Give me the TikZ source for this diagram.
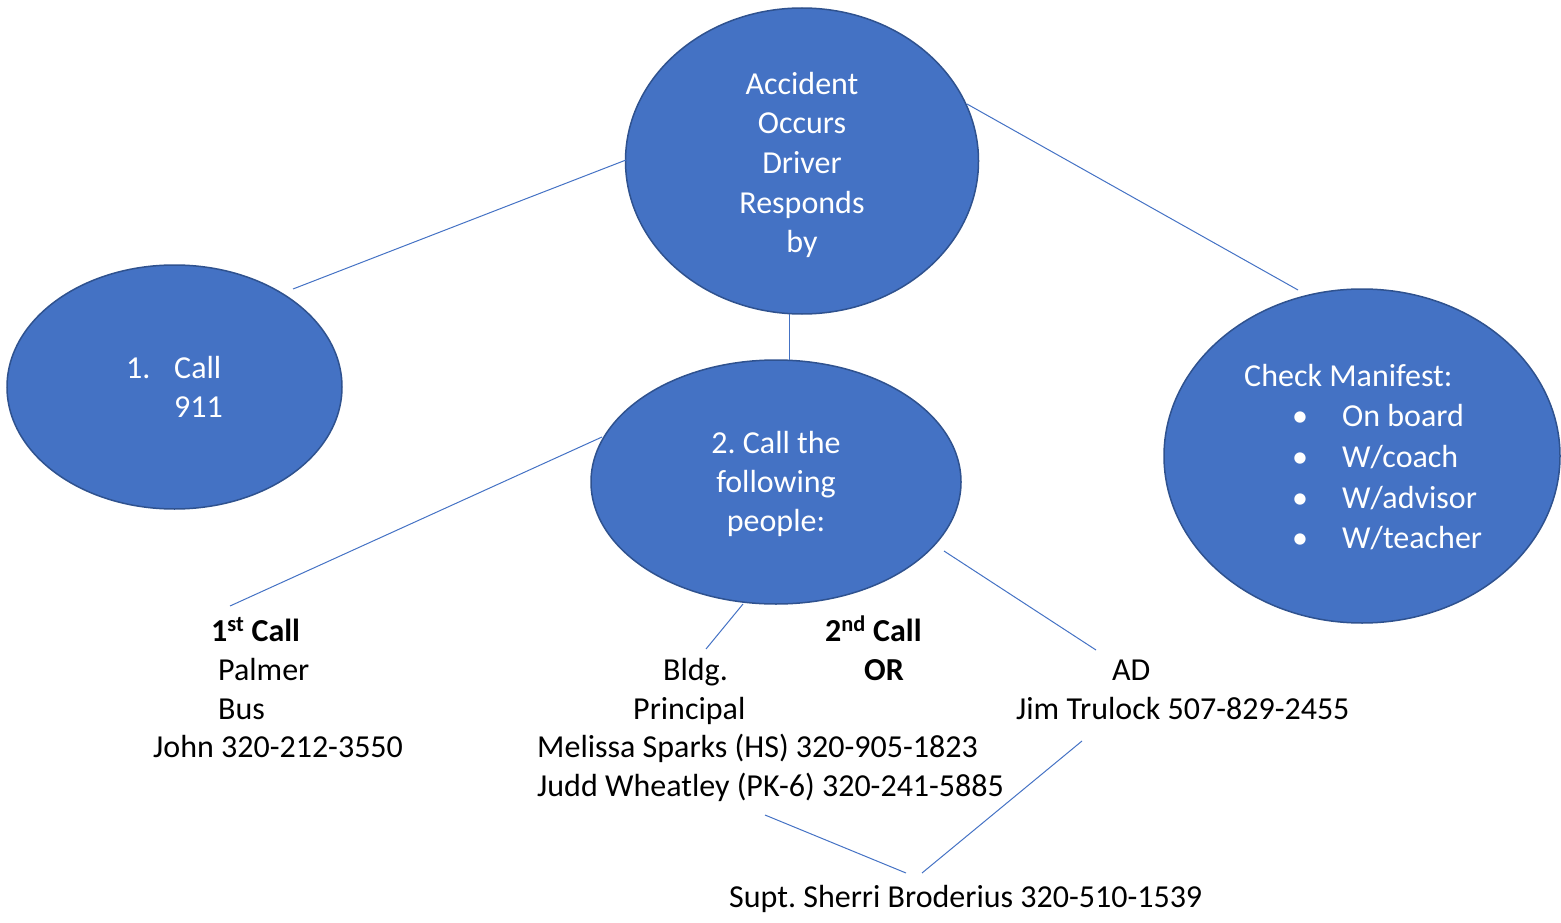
\documentclass[tikz,border=0pt]{standalone}
\usepackage{fontspec}
\setmainfont{Carlito}
\usetikzlibrary{shapes.geometric}
\definecolor{bluefill}{HTML}{4472C4}
\definecolor{blueedge}{HTML}{2F528F}
\tikzset{
  bubble/.style={ellipse, fill=bluefill, draw=blueedge, line width=1.5pt, inner sep=0pt},
  wtxt/.style={text=white, font=\fontsize{32}{39}\selectfont, inner sep=0pt},
  btxt/.style={text=black, font=\fontsize{32}{39}\selectfont, inner sep=0pt},
  bold/.style={font=\fontsize{32}{39}\selectfont\bfseries},
  conn/.style={draw=bluefill, line width=1pt},
}
\frenchspacing
\begin{document}
\begin{tikzpicture}[x=1pt,y=-1pt]
\useasboundingbox (0,0) rectangle (1561,923);
% ellipses
\node[bubble, minimum width=353, minimum height=306] (top) at (802,161) {};
\node[bubble, minimum width=335, minimum height=244] (left) at (174.5,387) {};
\node[bubble, minimum width=370, minimum height=244] (mid) at (776,482) {};
\node[bubble, minimum width=396, minimum height=334] (right) at (1362,456) {};
% top text
\node[wtxt, anchor=base] (t1) at (802,95) {Accident};
\node[wtxt, anchor=base] (t2) at (802,134) {Occurs};
\node[wtxt, anchor=base] (t3) at (802,174) {Driver};
\node[wtxt, anchor=base] (t4) at (802,213) {Responds};
\node[wtxt, anchor=base] (t5) at (802,252) {by};
% left text
\node[wtxt, anchor=base west] (l1) at (126,378) {1.};
\node[wtxt, anchor=base west] (l2) at (174,378) {Call};
\node[wtxt, anchor=base west] (l3) at (174,417) {911};
% middle text
\node[wtxt, anchor=base] (m1) at (776,453) {2. Call the};
\node[wtxt, anchor=base] (m2) at (776,492) {following};
\node[wtxt, anchor=base] (m3) at (776,531) {people:};
% right text
\node[wtxt, anchor=base west] (r0) at (1244,386) {Check Manifest:};
\node[wtxt, anchor=base] (b1) at (1300,426) {•};
\node[wtxt, anchor=base] (b2) at (1300,467) {•};
\node[wtxt, anchor=base] (b3) at (1300,508) {•};
\node[wtxt, anchor=base] (b4) at (1300,548) {•};
\node[wtxt, anchor=base west] (r1) at (1342,426) {On board};
\node[wtxt, anchor=base west] (r2) at (1342,467) {W/coach};
\node[wtxt, anchor=base west] (r3) at (1342,508) {W/advisor};
\node[wtxt, anchor=base west] (r4) at (1342,548) {W/teacher};
% bottom-left text
\node[btxt, bold, anchor=base west] (c1) at (211,641) {1\textsuperscript{st} Call};
\node[btxt, anchor=base west] (p1) at (218,680) {Palmer};
\node[btxt, anchor=base west] (p2) at (218,719) {Bus};
\node[btxt, anchor=base west] (p3) at (153,757) {John 320-212-3550};
% middle-bottom text
\node[btxt, bold, anchor=base west] (c2) at (825,641) {2\textsuperscript{nd} Call};
\node[btxt, bold, anchor=base west] (or) at (864,680) {OR};
\node[btxt, anchor=base west] (q1) at (663,680) {Bldg.};
\node[btxt, anchor=base west] (q2) at (633,719) {Principal};
\node[btxt, anchor=base west] (q3) at (537,757) {Melissa Sparks (HS) 320-905-1823};
\node[btxt, anchor=base west] (q4) at (537,796) {Judd Wheatley (PK-6) 320-241-5885};
% AD
\node[btxt, anchor=base west] (a1) at (1112,680) {AD};
\node[btxt, anchor=base west] (a2) at (1016,719) {Jim Trulock 507-829-2455};
% superintendent
\node[btxt, anchor=base west] (s1) at (729,907) {Supt. Sherri Broderius 320-510-1539};
% connector ends
\coordinate (e1a) at (626,160);  \coordinate (e1b) at (293,289);
\coordinate (e2a) at (967,104);  \coordinate (e2b) at (1298,290);
\coordinate (e3a) at (789,314);  \coordinate (e3b) at (789,360);
\coordinate (e4a) at (602,437);  \coordinate (e4b) at (230,606);
\coordinate (e5a) at (743,604);  \coordinate (e5b) at (706,649);
\coordinate (e6a) at (944,551);  \coordinate (e6b) at (1096,650);
\coordinate (e7a) at (1082,741); \coordinate (e7b) at (922,873);
\coordinate (e8a) at (765,815);  \coordinate (e8b) at (906,873);
\draw[conn] (e1a) -- (e1b);
\draw[conn] (e2a) -- (e2b);
\draw[conn] (e3a) -- (e3b);
\draw[conn] (e4a) -- (e4b);
\draw[conn] (e5a) -- (e5b);
\draw[conn] (e6a) -- (e6b);
\draw[conn] (e7a) -- (e7b);
\draw[conn] (e8a) -- (e8b);
\end{tikzpicture}
\end{document}
